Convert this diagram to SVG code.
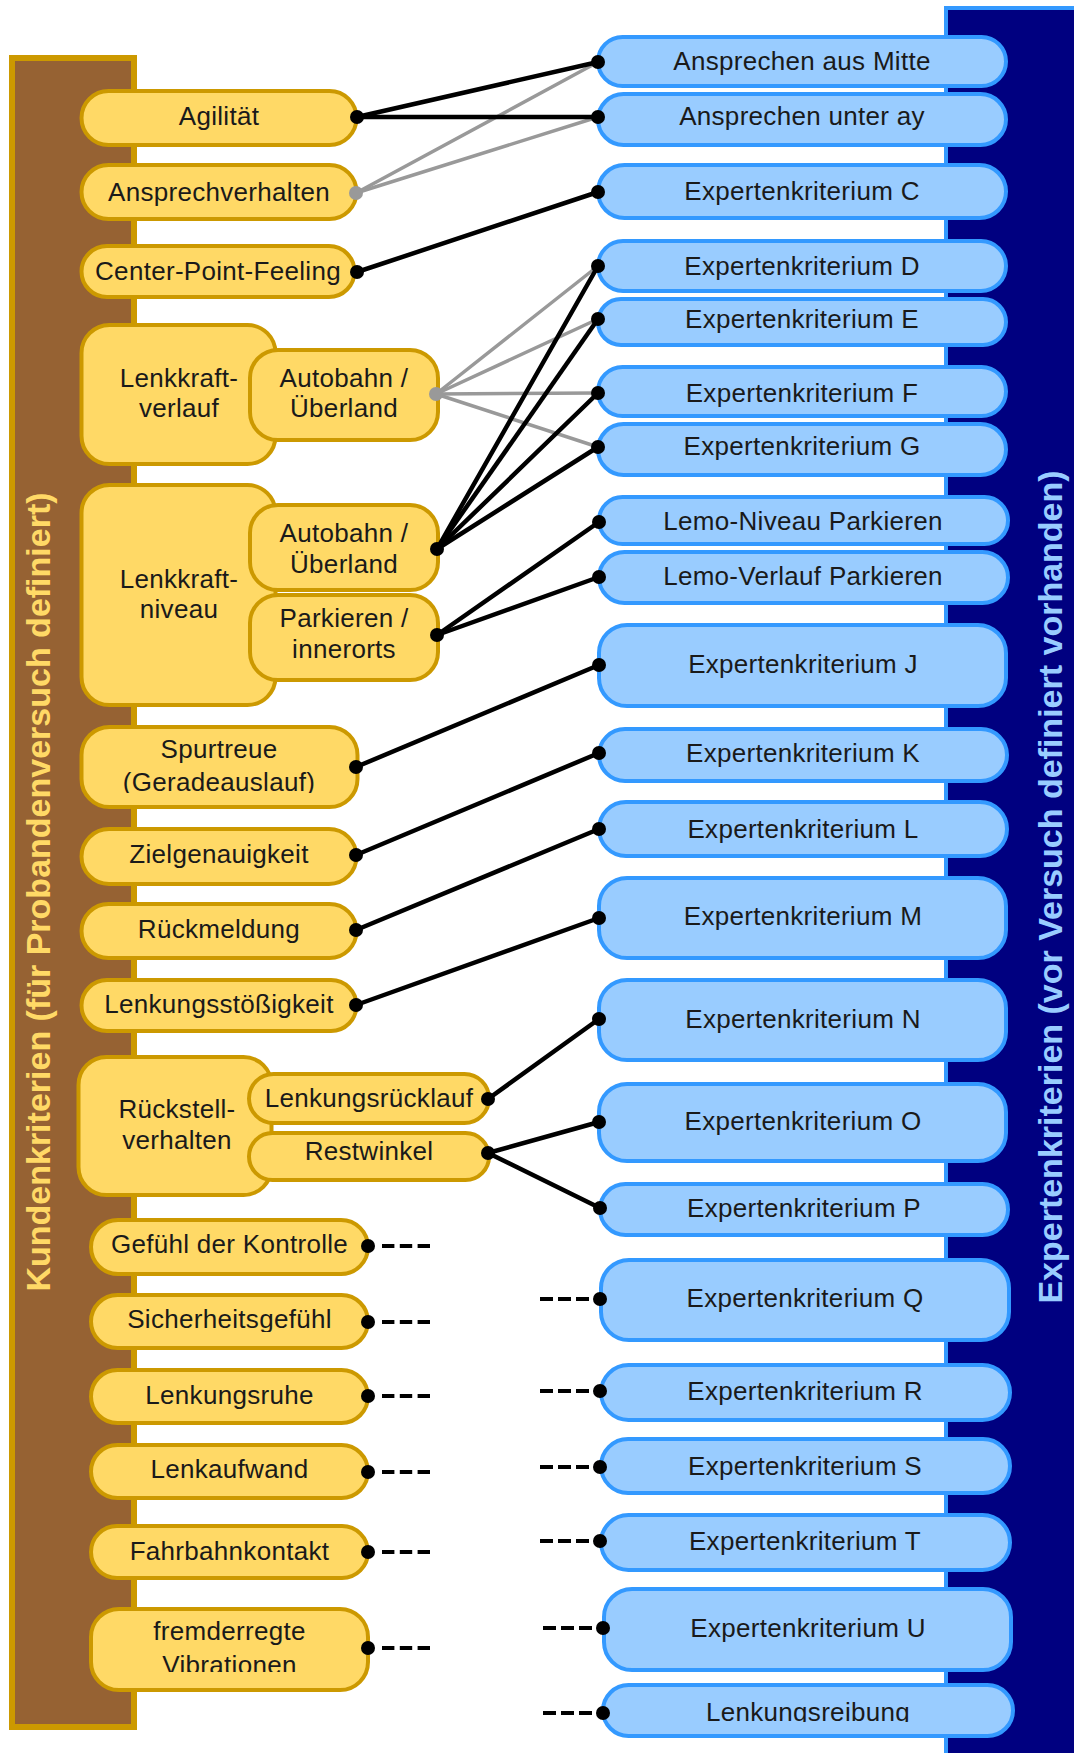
<svg xmlns="http://www.w3.org/2000/svg" width="1074" height="1753" viewBox="0 0 1074 1753">
  <style>
    .kn { fill: #FFD966; stroke: #CC9900; stroke-width: 4; }
    .en { fill: #99CCFF; stroke: #3399FF; stroke-width: 4; }
    .t { font-family: "Liberation Sans", Arial, sans-serif; font-size: 26px; letter-spacing: 0.3px; fill: #1a1a1a; text-anchor: middle; }
    .side { font-family: "Liberation Sans", Arial, sans-serif; font-size: 34px; font-weight: bold; text-anchor: middle; }
    .lk { stroke: #000; stroke-width: 4.5; stroke-linecap: round; fill: none; }
    .lg { stroke: #999; stroke-width: 3.5; stroke-linecap: round; fill: none; }
    .dl { stroke: #000; stroke-width: 4; stroke-dasharray: 12.4 5.4; fill: none; }
    .dr { stroke: #000; stroke-width: 4; stroke-dasharray: 13 5; fill: none; }
    .dk { fill: #000; }
    .dg { fill: #999; }
  </style>
  <defs>
    <clipPath id="clipGerade"><rect x="81" y="727" width="276" height="66"/></clipPath>
    <clipPath id="clipSicher"><rect x="91" y="1295" width="277" height="37"/></clipPath>
    <clipPath id="clipVibr"><rect x="91" y="1609" width="277" height="63"/></clipPath>
    <clipPath id="clipReib"><rect x="603" y="1685" width="410" height="37"/></clipPath>
  </defs>

  <rect width="1074" height="1753" fill="#fff"/>

  <!-- column backgrounds -->
  <g id="kundenkriterien-band">
    <rect x="12" y="58" width="122" height="1669" fill="#966233" stroke="#CC9900" stroke-width="6"/>
    <text class="side" fill="#FFD966" transform="translate(50 892) rotate(-90)">Kundenkriterien (für Probandenversuch definiert)</text>
  </g>
  <g id="expertenkriterien-band">
    <rect x="946" y="8" width="150" height="1760" fill="#000080" stroke="#3399FF" stroke-width="4"/>
    <text class="side" fill="#99CCFF" transform="translate(1062 887) rotate(-90)">Expertenkriterien (vor Versuch definiert vorhanden)</text>
  </g>

  <!-- customer criteria -->
  <g id="k-agilitaet"><rect class="kn" x="81.5" y="91" width="275" height="54" rx="27"/><text class="t" x="219" y="125">Agilität</text></g>
  <g id="k-ansprechverhalten"><rect class="kn" x="81.5" y="165" width="275" height="54" rx="27"/><text class="t" x="219" y="201">Ansprechverhalten</text></g>
  <g id="k-center-point"><rect class="kn" x="81.5" y="246" width="273" height="51" rx="25.5"/><text class="t" x="218" y="280">Center-Point-Feeling</text></g>
  <g id="k-lenkkraftverlauf">
    <rect class="kn" x="81.5" y="325" width="194" height="139" rx="28"/>
    <text class="t" x="179" y="387">Lenkkraft-</text><text class="t" x="179" y="417">verlauf</text>
  </g>
  <g id="k-lkv-autobahn"><rect class="kn" x="250" y="350" width="188" height="90" rx="28"/><text class="t" x="344" y="387">Autobahn /</text><text class="t" x="344" y="417">Überland</text></g>
  <g id="k-lenkkraftniveau">
    <rect class="kn" x="81.5" y="485" width="194" height="220" rx="28"/>
    <text class="t" x="179" y="588">Lenkkraft-</text><text class="t" x="179" y="618">niveau</text>
  </g>
  <g id="k-lkn-autobahn"><rect class="kn" x="250" y="505" width="188" height="85" rx="28"/><text class="t" x="344" y="542">Autobahn /</text><text class="t" x="344" y="573">Überland</text></g>
  <g id="k-lkn-parkieren"><rect class="kn" x="250" y="595" width="188" height="85" rx="28"/><text class="t" x="344" y="627">Parkieren /</text><text class="t" x="344" y="658">innerorts</text></g>
  <g id="k-spurtreue"><rect class="kn" x="81.5" y="727" width="276" height="80" rx="28"/><text class="t" x="219" y="758">Spurtreue</text><text class="t" x="219" y="791" clip-path="url(#clipGerade)">(Geradeauslauf)</text></g>
  <g id="k-zielgenauigkeit"><rect class="kn" x="81.5" y="829" width="275" height="55" rx="27.5"/><text class="t" x="219" y="863">Zielgenauigkeit</text></g>
  <g id="k-rueckmeldung"><rect class="kn" x="81.5" y="904" width="275" height="54" rx="27"/><text class="t" x="219" y="938">Rückmeldung</text></g>
  <g id="k-lenkungsstoessigkeit"><rect class="kn" x="81.5" y="980" width="275" height="51" rx="25.5"/><text class="t" x="219" y="1013">Lenkungsstößigkeit</text></g>
  <g id="k-rueckstellverhalten">
    <rect class="kn" x="78.5" y="1057" width="193" height="138" rx="28"/>
    <text class="t" x="177" y="1118">Rückstell-</text><text class="t" x="177" y="1149">verhalten</text>
  </g>
  <g id="k-lenkungsruecklauf"><rect class="kn" x="249" y="1074" width="240" height="49" rx="24.5"/><text class="t" x="369" y="1107">Lenkungsrücklauf</text></g>
  <g id="k-restwinkel"><rect class="kn" x="249" y="1133" width="240" height="47" rx="23.5"/><text class="t" x="369" y="1160">Restwinkel</text></g>
  <g id="k-kontrolle"><rect class="kn" x="91" y="1220" width="277" height="54" rx="27"/><text class="t" x="229.5" y="1253">Gefühl der Kontrolle</text></g>
  <g id="k-sicherheit"><rect class="kn" x="91" y="1295" width="277" height="53" rx="26.5"/><text class="t" x="229.5" y="1328" clip-path="url(#clipSicher)">Sicherheitsgefühl</text></g>
  <g id="k-lenkungsruhe"><rect class="kn" x="91" y="1370" width="277" height="53" rx="26.5"/><text class="t" x="229.5" y="1404">Lenkungsruhe</text></g>
  <g id="k-lenkaufwand"><rect class="kn" x="91" y="1445" width="277" height="53" rx="26.5"/><text class="t" x="229.5" y="1478">Lenkaufwand</text></g>
  <g id="k-fahrbahnkontakt"><rect class="kn" x="91" y="1526" width="277" height="52" rx="26"/><text class="t" x="229.5" y="1560">Fahrbahnkontakt</text></g>
  <g id="k-vibrationen"><rect class="kn" x="91" y="1609" width="277" height="81" rx="28"/><text class="t" x="229.5" y="1640">fremderregte</text><text class="t" x="229.5" y="1674" clip-path="url(#clipVibr)">Vibrationen</text></g>

  <!-- expert criteria -->
  <g id="e-aus-mitte"><rect class="en" x="598" y="37" width="408" height="49" rx="24.5"/><text class="t" x="802" y="70">Ansprechen aus Mitte</text></g>
  <g id="e-unter-ay"><rect class="en" x="598" y="94" width="408" height="51" rx="25.5"/><text class="t" x="802" y="125">Ansprechen unter ay</text></g>
  <g id="e-c"><rect class="en" x="598" y="165" width="408" height="53" rx="26.5"/><text class="t" x="802" y="200">Expertenkriterium C</text></g>
  <g id="e-d"><rect class="en" x="598" y="241" width="408" height="50" rx="25"/><text class="t" x="802" y="275">Expertenkriterium D</text></g>
  <g id="e-e"><rect class="en" x="598" y="299" width="408" height="46" rx="23"/><text class="t" x="802" y="328">Expertenkriterium E</text></g>
  <g id="e-f"><rect class="en" x="598" y="367" width="408" height="49" rx="24.5"/><text class="t" x="802" y="402">Expertenkriterium F</text></g>
  <g id="e-g"><rect class="en" x="598" y="424" width="408" height="51" rx="25.5"/><text class="t" x="802" y="455">Expertenkriterium G</text></g>
  <g id="e-lemo-niveau"><rect class="en" x="599" y="497" width="409" height="47" rx="23.5"/><text class="t" x="803" y="530">Lemo-Niveau Parkieren</text></g>
  <g id="e-lemo-verlauf"><rect class="en" x="599" y="552" width="409" height="51" rx="25.5"/><text class="t" x="803" y="585">Lemo-Verlauf Parkieren</text></g>
  <g id="e-j"><rect class="en" x="599" y="625" width="407" height="81" rx="28"/><text class="t" x="803" y="673">Expertenkriterium J</text></g>
  <g id="e-k"><rect class="en" x="599" y="729" width="408" height="52" rx="26"/><text class="t" x="803" y="762">Expertenkriterium K</text></g>
  <g id="e-l"><rect class="en" x="599" y="802" width="408" height="54" rx="27"/><text class="t" x="803" y="838">Expertenkriterium L</text></g>
  <g id="e-m"><rect class="en" x="599" y="878" width="407" height="80" rx="28"/><text class="t" x="803" y="925">Expertenkriterium M</text></g>
  <g id="e-n"><rect class="en" x="599" y="980" width="407" height="80" rx="28"/><text class="t" x="803" y="1028">Expertenkriterium N</text></g>
  <g id="e-o"><rect class="en" x="599" y="1084" width="407" height="77" rx="28"/><text class="t" x="803" y="1130">Expertenkriterium O</text></g>
  <g id="e-p"><rect class="en" x="600" y="1184" width="408" height="51" rx="25.5"/><text class="t" x="804" y="1217">Expertenkriterium P</text></g>
  <g id="e-q"><rect class="en" x="601" y="1260" width="408" height="80" rx="28"/><text class="t" x="805" y="1307">Expertenkriterium Q</text></g>
  <g id="e-r"><rect class="en" x="601" y="1365" width="409" height="55" rx="27.5"/><text class="t" x="805" y="1400">Expertenkriterium R</text></g>
  <g id="e-s"><rect class="en" x="601" y="1439" width="409" height="54" rx="27"/><text class="t" x="805" y="1475">Expertenkriterium S</text></g>
  <g id="e-t"><rect class="en" x="601" y="1515" width="409" height="55" rx="27.5"/><text class="t" x="805" y="1550">Expertenkriterium T</text></g>
  <g id="e-u"><rect class="en" x="604" y="1589" width="407" height="81" rx="28"/><text class="t" x="808" y="1637">Expertenkriterium U</text></g>
  <g id="e-lenkungsreibung"><rect class="en" x="603" y="1685" width="410" height="51" rx="25.5"/><text class="t" x="808" y="1721" clip-path="url(#clipReib)">Lenkungsreibung</text></g>

  <!-- connectors -->
  <g id="connectors">
    <g id="grey-links">
      <line class="lg" x1="356" y1="193" x2="598" y2="62"/>
      <line class="lg" x1="356" y1="193" x2="598" y2="117"/>
      <line class="lg" x1="436" y1="394" x2="598" y2="266"/>
      <line class="lg" x1="436" y1="394" x2="598" y2="319"/>
      <line class="lg" x1="436" y1="394" x2="598" y2="393"/>
      <line class="lg" x1="436" y1="394" x2="598" y2="447"/>
    </g>
    <g id="black-links">
      <line class="lk" x1="357" y1="117" x2="598" y2="62"/>
      <line class="lk" x1="357" y1="117" x2="598" y2="117"/>
      <line class="lk" x1="357" y1="272" x2="598" y2="192"/>
      <line class="lk" x1="437" y1="549" x2="598" y2="266"/>
      <line class="lk" x1="437" y1="549" x2="598" y2="319"/>
      <line class="lk" x1="437" y1="549" x2="598" y2="393"/>
      <line class="lk" x1="437" y1="549" x2="598" y2="447"/>
      <line class="lk" x1="437" y1="635" x2="599" y2="522"/>
      <line class="lk" x1="437" y1="635" x2="599" y2="577"/>
      <line class="lk" x1="356" y1="767" x2="599" y2="665"/>
      <line class="lk" x1="356" y1="855" x2="599" y2="753"/>
      <line class="lk" x1="356" y1="930" x2="599" y2="829"/>
      <line class="lk" x1="356" y1="1005" x2="599" y2="918"/>
      <line class="lk" x1="488" y1="1099" x2="599" y2="1019"/>
      <line class="lk" x1="488" y1="1153" x2="599" y2="1122"/>
      <line class="lk" x1="488" y1="1153" x2="600" y2="1208"/>
    </g>
    <g id="open-stubs">
      <line class="dl" x1="382" y1="1246" x2="430" y2="1246"/>
      <line class="dl" x1="382" y1="1322" x2="430" y2="1322"/>
      <line class="dl" x1="382" y1="1396" x2="430" y2="1396"/>
      <line class="dl" x1="382" y1="1472" x2="430" y2="1472"/>
      <line class="dl" x1="382" y1="1552" x2="430" y2="1552"/>
      <line class="dl" x1="382" y1="1648" x2="430" y2="1648"/>
      <line class="dr" x1="540" y1="1299" x2="589" y2="1299"/>
      <line class="dr" x1="540" y1="1391" x2="589" y2="1391"/>
      <line class="dr" x1="540" y1="1467" x2="589" y2="1467"/>
      <line class="dr" x1="540" y1="1541" x2="589" y2="1541"/>
      <line class="dr" x1="543" y1="1628" x2="592" y2="1628"/>
      <line class="dr" x1="543" y1="1713" x2="592" y2="1713"/>
    </g>
    <g id="ports">
      <circle class="dg" cx="356" cy="193" r="7"/>
      <circle class="dg" cx="436" cy="394" r="7"/>
      <circle class="dk" cx="357" cy="117" r="7"/>
      <circle class="dk" cx="357" cy="272" r="7"/>
      <circle class="dk" cx="437" cy="549" r="7"/>
      <circle class="dk" cx="437" cy="635" r="7"/>
      <circle class="dk" cx="356" cy="767" r="7"/>
      <circle class="dk" cx="356" cy="855" r="7"/>
      <circle class="dk" cx="356" cy="930" r="7"/>
      <circle class="dk" cx="356" cy="1005" r="7"/>
      <circle class="dk" cx="488" cy="1099" r="7"/>
      <circle class="dk" cx="488" cy="1153" r="7"/>
      <circle class="dk" cx="368" cy="1246" r="7"/>
      <circle class="dk" cx="368" cy="1322" r="7"/>
      <circle class="dk" cx="368" cy="1396" r="7"/>
      <circle class="dk" cx="368" cy="1472" r="7"/>
      <circle class="dk" cx="368" cy="1552" r="7"/>
      <circle class="dk" cx="368" cy="1648" r="7"/>
      <circle class="dk" cx="598" cy="62" r="7"/>
      <circle class="dk" cx="598" cy="117" r="7"/>
      <circle class="dk" cx="598" cy="192" r="7"/>
      <circle class="dk" cx="598" cy="266" r="7"/>
      <circle class="dk" cx="598" cy="319" r="7"/>
      <circle class="dk" cx="598" cy="393" r="7"/>
      <circle class="dk" cx="598" cy="447" r="7"/>
      <circle class="dk" cx="599" cy="522" r="7"/>
      <circle class="dk" cx="599" cy="577" r="7"/>
      <circle class="dk" cx="599" cy="665" r="7"/>
      <circle class="dk" cx="599" cy="753" r="7"/>
      <circle class="dk" cx="599" cy="829" r="7"/>
      <circle class="dk" cx="599" cy="918" r="7"/>
      <circle class="dk" cx="599" cy="1019" r="7"/>
      <circle class="dk" cx="599" cy="1122" r="7"/>
      <circle class="dk" cx="600" cy="1208" r="7"/>
      <circle class="dk" cx="600" cy="1299" r="7"/>
      <circle class="dk" cx="600" cy="1391" r="7"/>
      <circle class="dk" cx="600" cy="1467" r="7"/>
      <circle class="dk" cx="600" cy="1541" r="7"/>
      <circle class="dk" cx="603" cy="1628" r="7"/>
      <circle class="dk" cx="603" cy="1713" r="7"/>
    </g>
  </g>
</svg>
